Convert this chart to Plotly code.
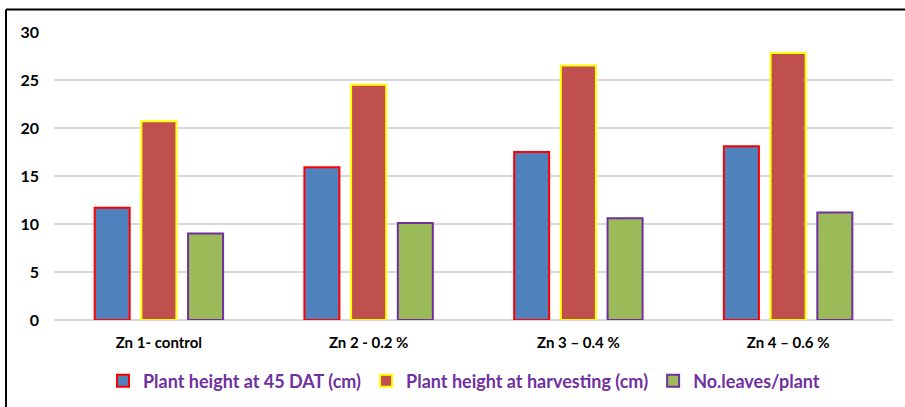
import plotly.graph_objects as go

# Zinc treatments and measured growth traits
categories = ["Zn 1- control", "Zn 2 - 0.2 %", "Zn 3 \u2013 0.4 %", "Zn 4 \u2013 0.6 %"]
height_45dat = [11.7, 15.9, 17.5, 18.1]
height_harvest = [20.7, 24.5, 26.5, 27.8]
leaves_per_plant = [9.0, 10.1, 10.6, 11.2]
y_ticks = [0, 5, 10, 15, 20, 25, 30]

series = [
    ("Plant height at 45 DAT (cm)", height_45dat, "#4F81BD", "#FF0000"),
    ("Plant height at harvesting (cm)", height_harvest, "#C0504D", "#FFFF00"),
    ("No.leaves/plant", leaves_per_plant, "#9BBB59", "#7030A0"),
]

FONT = "Lato, 'Open Sans', sans-serif"

fig = go.Figure()
for name, vals, fill, edge in series:
    fig.add_trace(go.Bar(
        name=name, x=categories, y=vals,
        marker=dict(color=fill, line=dict(color=edge, width=2)),
    ))

L, R, T, B = 54, 12, 32, 87
W, H = 905, 407
pw, ph = W - L - R, H - T - B

def px(x):
    return (x - L) / pw

def py(y):
    return (H - B - y) / ph

fig.update_layout(
    width=W, height=H,
    margin=dict(l=L, r=R, t=T, b=B, autoexpand=False),
    paper_bgcolor="white", plot_bgcolor="white",
    barmode="group", bargap=0.332, bargroupgap=0.25,
    font=dict(family=FONT, color="black"),
    xaxis=dict(showgrid=False, showline=False, ticks="",
               tickfont=dict(size=15, color="black", weight="bold"),
               ticklabelstandoff=12),
    yaxis=dict(range=[0, 30], tickvals=y_ticks, showgrid=True,
               gridcolor="#D9D9D9", gridwidth=2, zeroline=True,
               zerolinecolor="#D9D9D9", zerolinewidth=2,
               tickfont=dict(size=16, color="black", weight="bold"),
               ticklabelstandoff=14),
    legend=dict(orientation="h", x=px(464), xanchor="center", y=py(381), yanchor="middle",
                font=dict(size=18, color="#7030A0", weight="bold"),
                itemwidth=30, traceorder="normal"),
    shapes=[
        dict(type="line", xref="paper", yref="paper", x0=px(6), x1=px(W + 2),
             y0=py(9.5), y1=py(9.5), line=dict(color="black", width=2)),
        dict(type="line", xref="paper", yref="paper", x0=px(6), x1=px(6),
             y0=py(9.5), y1=py(H + 2), line=dict(color="black", width=2)),
    ],
)

fig.write_html("out.html")
